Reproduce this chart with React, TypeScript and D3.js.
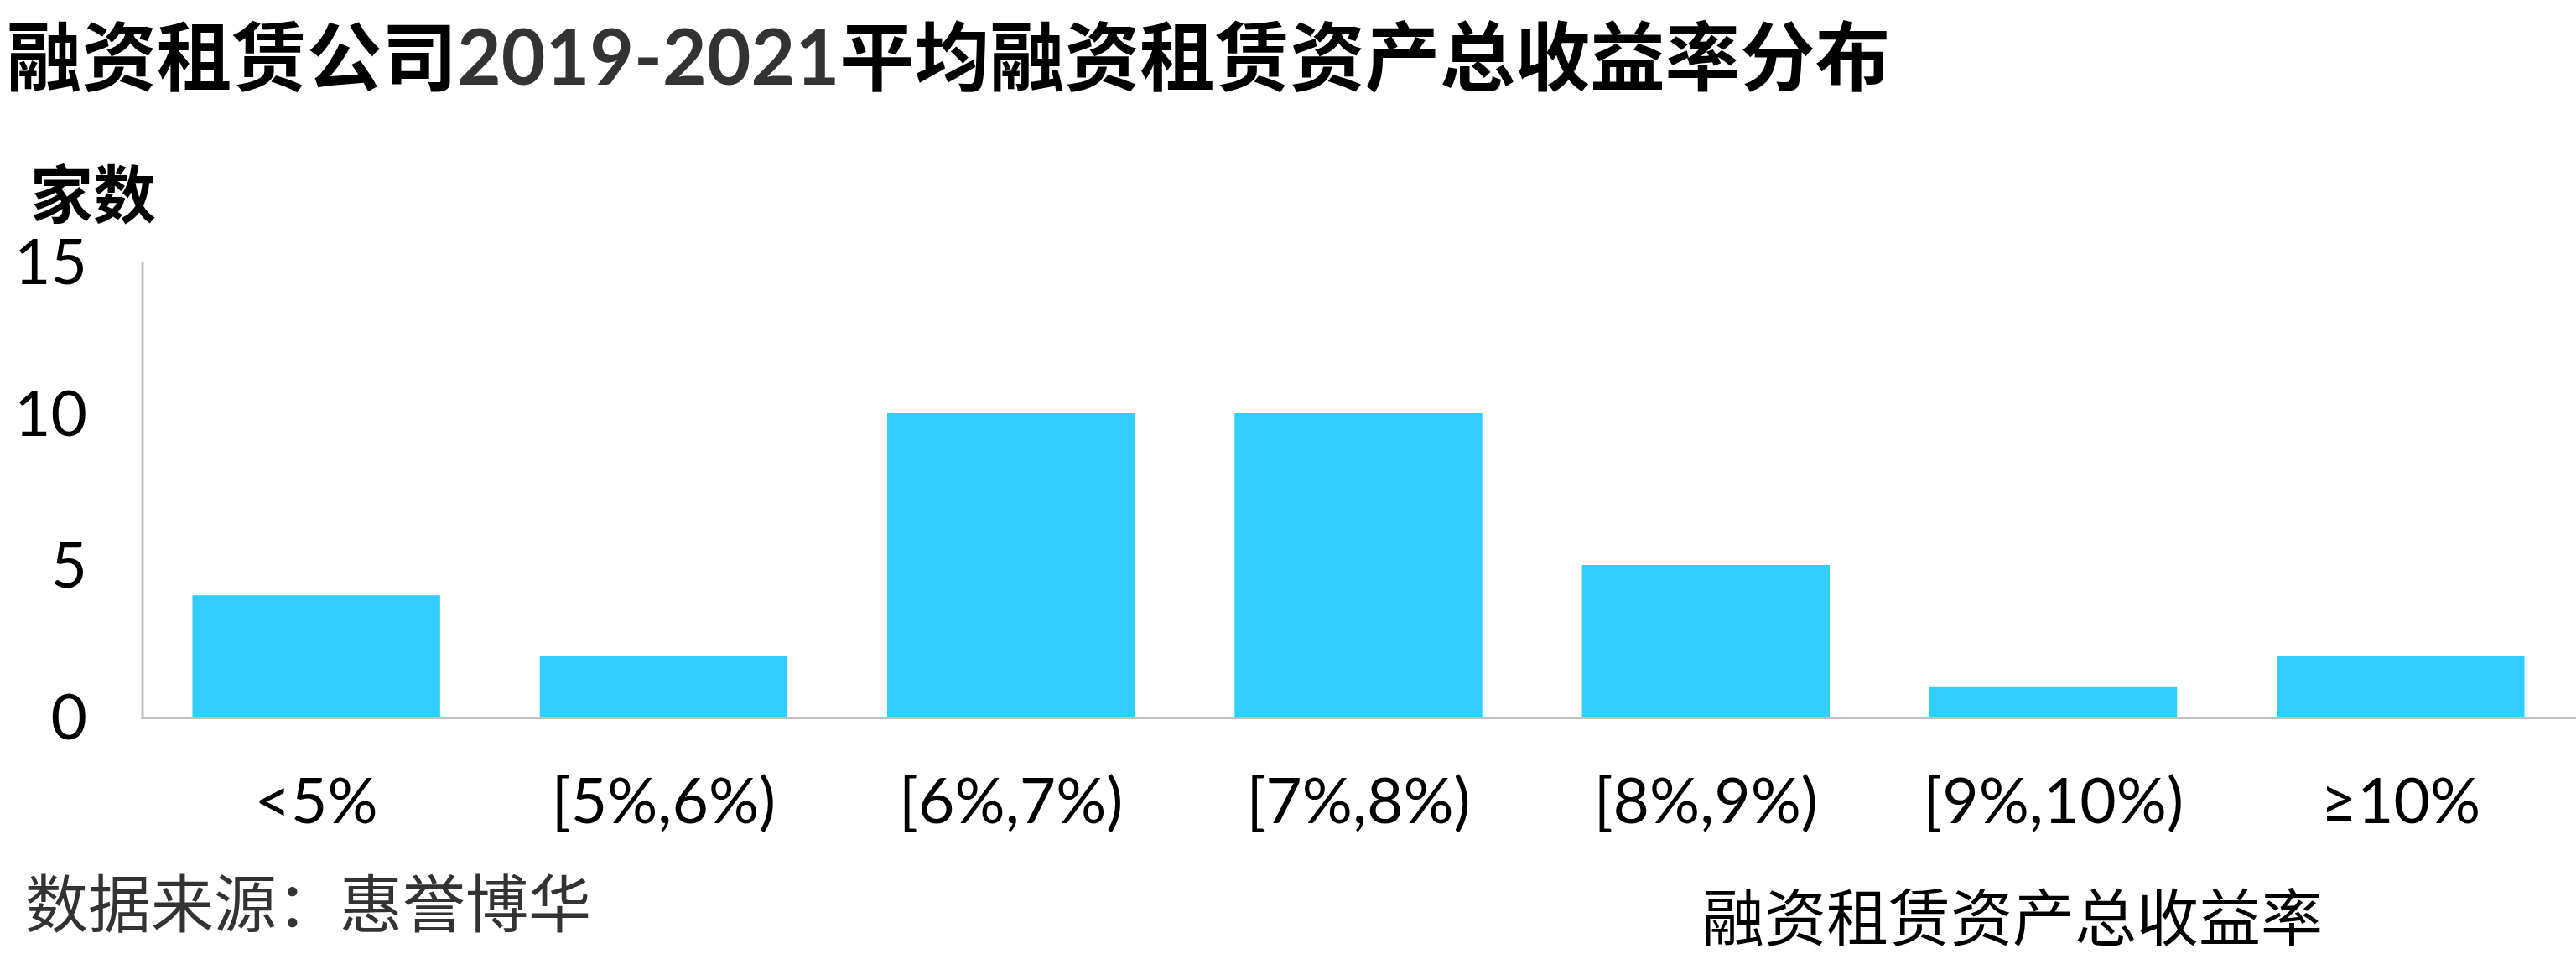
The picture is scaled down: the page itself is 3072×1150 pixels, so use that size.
import { useEffect, useRef } from 'react'
import * as d3 from 'd3'

const categories = ['<5%', '[5%,6%)', '[6%,7%)', '[7%,8%)', '[8%,9%)', '[9%,10%)', '≥10%']
const counts = [4, 2, 10, 10, 5, 1, 2]
const yTicks = [0, 5, 10, 15]

const titleParts = [
  { text: '融资租赁公司', latin: false },
  { text: '2019-2021', latin: true },
  { text: '平均融资租赁资产总收益率分布', latin: false },
]

const WIDTH = 3072
const HEIGHT = 1150
const CJK = '"Noto Sans CJK SC", sans-serif'
const LATO = 'Lato, sans-serif'

export default function App() {
  const svgRef = useRef<SVGSVGElement>(null)

  useEffect(() => {
    if (!svgRef.current) return

    d3.select(svgRef.current).selectAll('*').remove()

    const svg = d3.select(svgRef.current)
      .attr('width', WIDTH)
      .attr('height', HEIGHT)

    const x = d3.scaleBand<string>()
      .domain(categories)
      .range([170, 3070])
      .paddingInner(0.287)
      .paddingOuter(0.1435)

    const y = d3.scaleLinear()
      .domain([0, 15])
      .range([855, 312])

    // Title
    const title = svg.append('text')
      .attr('x', 8)
      .attr('y', 101)
    title.selectAll('tspan')
      .data(titleParts)
      .enter().append('tspan')
      .style('font-family', d => d.latin ? LATO : CJK)
      .style('font-size', d => d.latin ? '91px' : '89.5px')
      .style('font-weight', '700')
      .attr('fill', d => d.latin ? '#333333' : '#000000')
      .text(d => d.text)

    // Y axis label
    svg.append('text')
      .attr('x', 36)
      .attr('y', 260)
      .style('font-family', CJK)
      .style('font-size', '75px')
      .style('font-weight', '700')
      .attr('fill', '#000')
      .text('家数')

    // Bars
    svg.append('g')
      .selectAll('rect')
      .data(counts)
      .enter().append('rect')
      .attr('x', (_, i) => x(categories[i])!)
      .attr('y', d => y(d))
      .attr('width', x.bandwidth())
      .attr('height', d => y(0) - y(d))
      .attr('fill', '#33CCFF')

    // Axis lines
    svg.append('line')
      .attr('x1', 170).attr('x2', 170)
      .attr('y1', y(15)).attr('y2', y(0) + 3)
      .attr('stroke', '#bfbfbf')
      .attr('stroke-width', 3)

    svg.append('line')
      .attr('x1', 168.5).attr('x2', WIDTH)
      .attr('y1', y(0) + 1.5).attr('y2', y(0) + 1.5)
      .attr('stroke', '#bfbfbf')
      .attr('stroke-width', 3)

    // Y tick labels
    svg.append('g')
      .selectAll('text')
      .data(yTicks)
      .enter().append('text')
      .attr('x', 104)
      .attr('y', d => y(d) + 27)
      .attr('text-anchor', 'end')
      .style('font-family', LATO)
      .style('font-size', '75px')
      .attr('fill', '#000')
      .text(d => d)

    // X tick labels
    svg.append('g')
      .selectAll('text')
      .data(categories)
      .enter().append('text')
      .attr('x', d => x(d)! + x.bandwidth() / 2)
      .attr('y', 982)
      .attr('text-anchor', 'middle')
      .style('font-family', LATO)
      .style('font-size', '75px')
      .attr('fill', '#000')
      .text(d => d)

    // Source note
    svg.append('text')
      .attr('x', 30)
      .attr('y', 1106)
      .style('font-family', CJK)
      .style('font-size', '75px')
      .attr('fill', '#333333')
      .text('数据来源：惠誉博华')

    // X axis title
    svg.append('text')
      .attr('x', 2030)
      .attr('y', 1122)
      .style('font-family', CJK)
      .style('font-size', '74px')
      .attr('fill', '#000')
      .text('融资租赁资产总收益率')
  }, [])

  return (
    <svg
      ref={svgRef}
      style={{ position: 'absolute', left: 0, top: 0, background: '#fff' }}
    />
  )
}
